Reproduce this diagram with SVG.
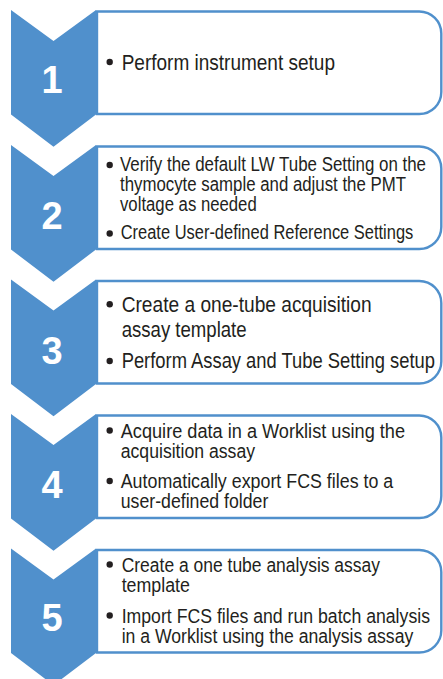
<svg xmlns="http://www.w3.org/2000/svg" xmlns:xlink="http://www.w3.org/1999/xlink" width="443" height="679" viewBox="0 0 443 679">
<style>
.chev{fill:#5090CC}
.box{fill:#fff;stroke:#5090CC;stroke-width:2.4}
.num{font-family:"Liberation Sans",Arial,sans-serif;font-weight:bold;font-size:38px;fill:#fff;text-anchor:middle}
.t{font-family:"Liberation Sans",Arial,sans-serif;font-size:20px;fill:#231F20}
.t22{font-size:22px}
.b{fill:#231F20}
</style>
<defs>
<path id="chev" class="chev" d="M11,0 L53.5,31 L96,0 L96,104.5 L53.5,136.7 L11,104.5 Z"/>
<path id="box" class="box" d="M97,1.5 H419.3 A22,22 0 0 1 441.3,23.5 V82 A22,22 0 0 1 419.3,104 H97 Z"/>
</defs>
<rect width="443" height="679" fill="#fff"/>
<g id="connectors"/>
<g id="step1">
<use xlink:href="#box" href="#box" transform="translate(0,10)"/>
<use xlink:href="#chev" href="#chev" transform="translate(0,10)"/>
<text class="num" x="52" y="93.3">1</text>
<circle class="b" cx="109.7" cy="62" r="3.2"/>
<g transform="scale(0.8,1)">
<text class="t t22" x="152.1" y="70" textLength="266.6" lengthAdjust="spacingAndGlyphs">Perform instrument setup</text>
</g>
</g>
<g id="step2">
<use xlink:href="#box" href="#box" transform="translate(0,145)"/>
<use xlink:href="#chev" href="#chev" transform="translate(0,145)"/>
<text class="num" x="52" y="229">2</text>
<circle class="b" cx="109.7" cy="165" r="3.2"/>
<circle class="b" cx="109.7" cy="233.5" r="3.2"/>
<g transform="scale(0.8,1)">
<text class="t" x="150" y="171.5" textLength="382.5" lengthAdjust="spacingAndGlyphs">Verify the default LW Tube Setting on the</text>
<text class="t" x="150" y="191.5" textLength="357.5" lengthAdjust="spacingAndGlyphs">thymocyte sample and adjust the PMT</text>
<text class="t" x="150" y="211.5" textLength="170.9" lengthAdjust="spacingAndGlyphs">voltage as needed</text>
<text class="t" x="150.9" y="239.3" textLength="365.7" lengthAdjust="spacingAndGlyphs">Create User-defined Reference Settings</text>
</g>
</g>
<g id="step3">
<use xlink:href="#box" href="#box" transform="translate(0,279.5)"/>
<use xlink:href="#chev" href="#chev" transform="translate(0,279.5)"/>
<text class="num" x="52" y="363.5">3</text>
<circle class="b" cx="109.7" cy="304.3" r="3.2"/>
<circle class="b" cx="109.7" cy="361" r="3.2"/>
<g transform="scale(0.8,1)">
<text class="t t22" x="152.1" y="311.7" textLength="312.5" lengthAdjust="spacingAndGlyphs">Create a one-tube acquisition</text>
<text class="t t22" x="152.1" y="336.7" textLength="156.2" lengthAdjust="spacingAndGlyphs">assay template</text>
<text class="t t22" x="152.1" y="368.3" textLength="391.6" lengthAdjust="spacingAndGlyphs">Perform Assay and Tube Setting setup</text>
</g>
</g>
<g id="step4">
<use xlink:href="#box" href="#box" transform="translate(0,414)"/>
<use xlink:href="#chev" href="#chev" transform="translate(0,414)"/>
<text class="num" x="52" y="497.5">4</text>
<circle class="b" cx="109.7" cy="430.5" r="3.2"/>
<circle class="b" cx="109.7" cy="481" r="3.2"/>
<g transform="scale(0.8,1)">
<text class="t" x="150.9" y="437.7" textLength="355.4" lengthAdjust="spacingAndGlyphs">Acquire data in a Worklist using the</text>
<text class="t" x="150.9" y="458" textLength="167.9" lengthAdjust="spacingAndGlyphs">acquisition assay</text>
<text class="t" x="150.9" y="488.3" textLength="340.7" lengthAdjust="spacingAndGlyphs">Automatically export FCS files to a</text>
<text class="t" x="150.9" y="508.3" textLength="184.5" lengthAdjust="spacingAndGlyphs">user-defined folder</text>
</g>
</g>
<g id="step5">
<use xlink:href="#box" href="#box" transform="translate(0,548.5)"/>
<use xlink:href="#chev" href="#chev" transform="translate(0,548.5)"/>
<text class="num" x="52" y="631">5</text>
<circle class="b" cx="109.7" cy="564.5" r="3.2"/>
<circle class="b" cx="109.7" cy="615.5" r="3.2"/>
<g transform="scale(0.8,1)">
<text class="t" x="152.1" y="571.7" textLength="322.9" lengthAdjust="spacingAndGlyphs">Create a one tube analysis assay</text>
<text class="t" x="152.1" y="591.7" textLength="85.4" lengthAdjust="spacingAndGlyphs">template</text>
<text class="t" x="152.1" y="622.7" textLength="385.4" lengthAdjust="spacingAndGlyphs">Import FCS files and run batch analysis</text>
<text class="t" x="152.1" y="642.7" textLength="364.5" lengthAdjust="spacingAndGlyphs">in a Worklist using the analysis assay</text>
</g>
</g>
</svg>
